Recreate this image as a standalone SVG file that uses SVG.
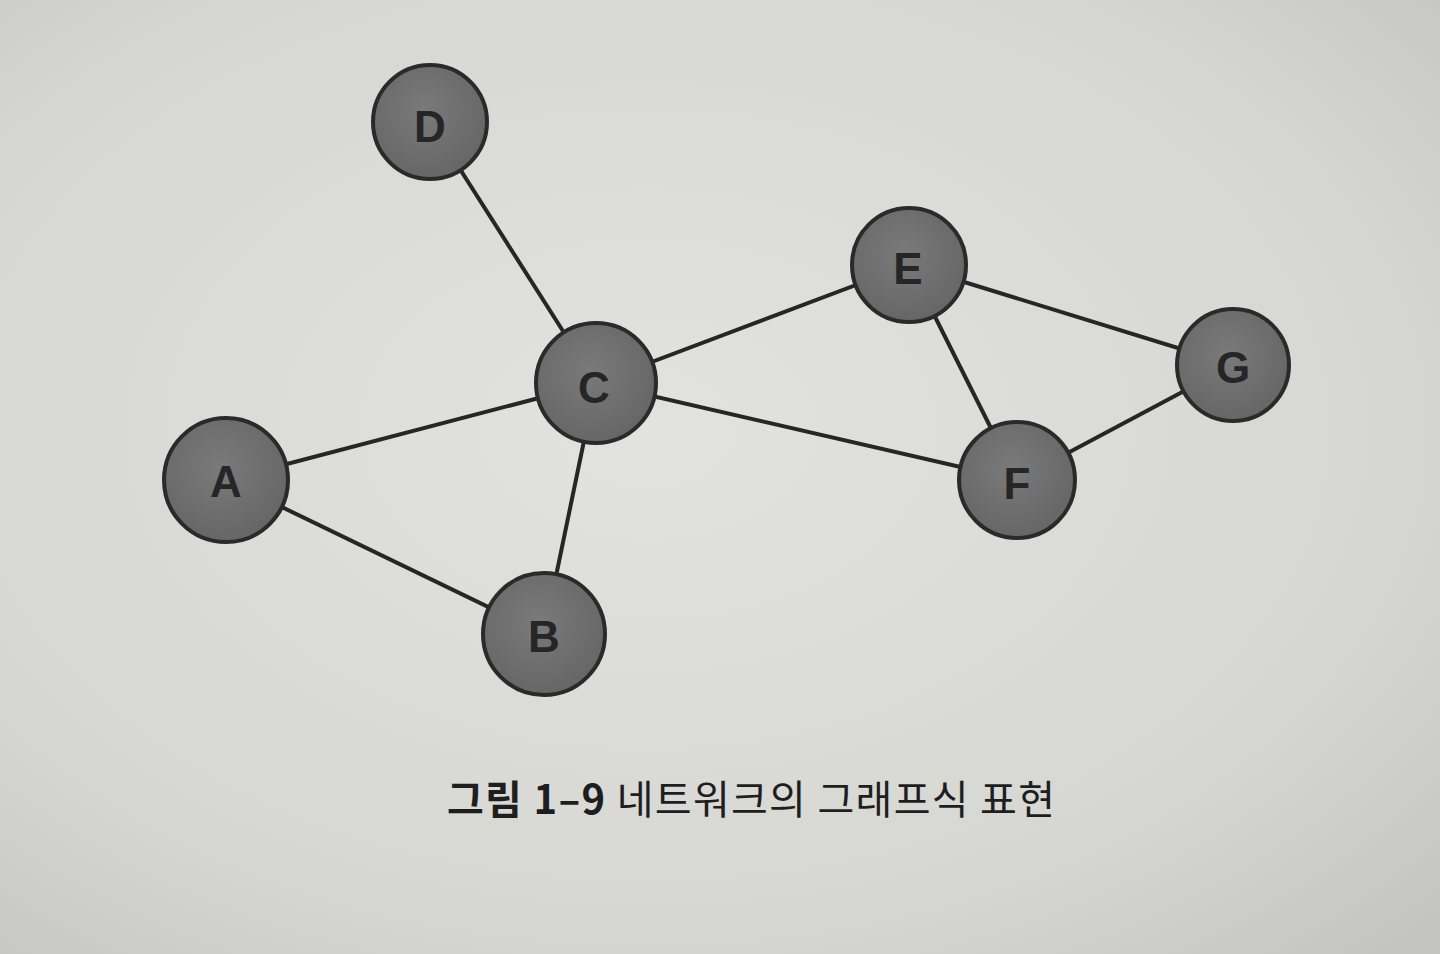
<svg xmlns="http://www.w3.org/2000/svg" width="1440" height="954" viewBox="0 0 1440 954">
<defs>
<radialGradient id="bg" cx="0.45" cy="0.45" r="0.75">
<stop offset="0" stop-color="#e2e2df"/>
<stop offset="0.7" stop-color="#d6d6d3"/>
<stop offset="1" stop-color="#c4c4c1"/>
</radialGradient>
<radialGradient id="nodefill" cx="0.45" cy="0.4" r="0.6">
<stop offset="0" stop-color="#7a7a7a"/>
<stop offset="1" stop-color="#666666"/>
</radialGradient>
<style>
.node circle{fill:url(#nodefill);stroke:#2a2a2a;stroke-width:4}
.node text{font-family:"Liberation Sans","Noto Sans",Arial,sans-serif;font-weight:bold;font-size:44px;fill:#262626;text-anchor:middle;dominant-baseline:central}
.edges line{stroke:#262626;stroke-width:4;stroke-linecap:round}
.cap{font-family:"Noto Sans CJK KR","Noto Sans",sans-serif;font-size:40px;fill:#1e1e1e}
</style>
</defs>
<rect width="1440" height="954" fill="url(#bg)"/>
<g id="edges" class="edges">
<line x1="430" y1="122" x2="596" y2="383"/>
<line x1="596" y1="383" x2="226" y2="480"/>
<line x1="596" y1="383" x2="544" y2="634"/>
<line x1="226" y1="480" x2="544" y2="634"/>
<line x1="596" y1="383" x2="909" y2="265"/>
<line x1="596" y1="383" x2="1017" y2="480"/>
<line x1="909" y1="265" x2="1017" y2="480"/>
<line x1="909" y1="265" x2="1233" y2="365"/>
<line x1="1233" y1="365" x2="1017" y2="480"/>
</g>
<g id="node-D" class="node"><circle cx="430" cy="122" r="57"/><text x="430" y="126">D</text></g>
<g id="node-C" class="node"><circle cx="596" cy="383" r="60"/><text x="594" y="387">C</text></g>
<g id="node-A" class="node"><circle cx="226" cy="480" r="62"/><text x="226" y="481">A</text></g>
<g id="node-B" class="node"><circle cx="544" cy="634" r="61"/><text x="544" y="636">B</text></g>
<g id="node-E" class="node"><circle cx="909" cy="265" r="57"/><text x="908" y="268">E</text></g>
<g id="node-G" class="node"><circle cx="1233" cy="365" r="56"/><text x="1233" y="367">G</text></g>
<g id="node-F" class="node"><circle cx="1017" cy="480" r="58"/><text x="1017" y="483">F</text></g>
<text class="cap" x="447" y="814" textLength="608" lengthAdjust="spacing"><tspan font-weight="bold">그림 1–9</tspan> 네트워크의 그래프식 표현</text>
</svg>
